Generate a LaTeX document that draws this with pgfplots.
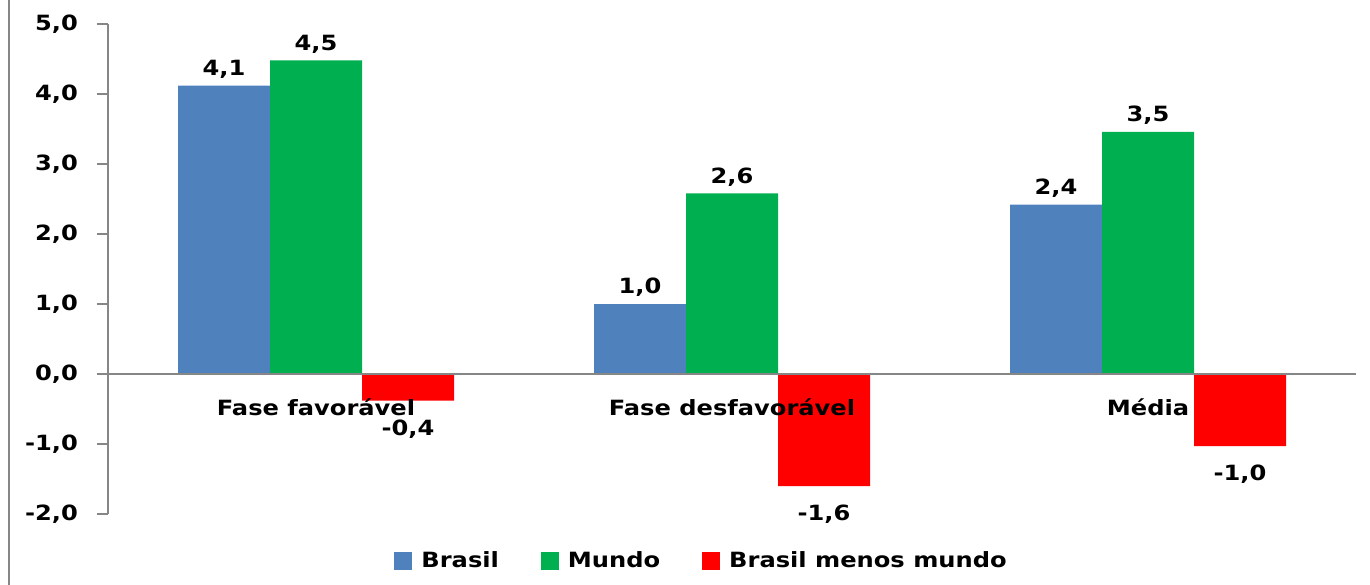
\documentclass[border=0pt]{standalone}
\usepackage{fontspec}
\setmainfont{DejaVu Sans}[FakeStretch=1.15]
\usepackage{pgfplots}
\pgfplotsset{compat=1.18}
\definecolor{cBlue}{HTML}{4F81BD}
\definecolor{cGreen}{HTML}{00B050}
\definecolor{cRed}{HTML}{FF0000}
\definecolor{cAxis}{HTML}{868686}
\newcommand\lf{\fontsize{10.5bp}{12.5bp}\selectfont\bfseries}
\begin{document}
\begin{tikzpicture}
\useasboundingbox (0,0) rectangle (685bp,292.5bp);
\draw[cAxis, line width=1bp] (4.5bp,0) -- (4.5bp,292.5bp);
\begin{axis}[
  at={(54bp,35.5bp)}, anchor=south west,
  scale only axis, width=624bp, height=245bp,
  ybar=0pt, bar width=46bp,
  xmin=-0.5, xmax=2.5, ymin=-2, ymax=5,
  axis on top,
  axis y line=left, axis x line=middle,
  axis line style={-, cAxis, line width=0.8bp},
  xtick={0,1,2},
  xticklabels={Fase favorável, Fase desfavorável, Média},
  x tick style={draw=none},
  extra x ticks={-0.5,0.5,1.5,2.5},
  extra x tick labels={},
  extra x tick style={tick align=outside, major tick length=4.5bp, tick style={draw=cAxis, line width=0.8bp}},
  ytick={-2,-1,0,1,2,3,4,5},
  y tick style={draw=cAxis, line width=0.8bp},
  tick align=outside, major tick length=5.5bp,
  /pgf/number format/fixed,
  /pgf/number format/fixed zerofill,
  /pgf/number format/precision=1,
  /pgf/number format/use comma,
  /pgf/number format/assume math mode=true,
  tick label style={font=\lf},
  xticklabel style={anchor=center, yshift=-11bp},
  yticklabel style={xshift=-6bp},
  nodes near coords,
  nodes near coords style={font=\lf},
  legend style={draw=none, fill=none, font=\lf, at={(0.2292,-0.0969)}, anchor=west, inner sep=0pt, legend columns=3,
    /tikz/every even column/.append style={column sep=19bp}},
  legend image code/.code={\fill[#1] (0bp,-4.5bp) rectangle (9bp,4.5bp); \path (11.5bp,0);},
  clip=false,
]
\addplot[fill=cBlue, draw=none] coordinates {(0,4.12) (1,1.0) (2,2.42)};
\addplot[fill=cGreen, draw=none] coordinates {(0,4.48) (1,2.58) (2,3.46)};
\addplot[fill=cRed, draw=none, every node near coord/.append style={yshift=-6bp}] coordinates {(0,-0.38) (1,-1.6) (2,-1.03)};
\legend{Brasil, Mundo, Brasil menos mundo}
\end{axis}
\end{tikzpicture}
\end{document}
